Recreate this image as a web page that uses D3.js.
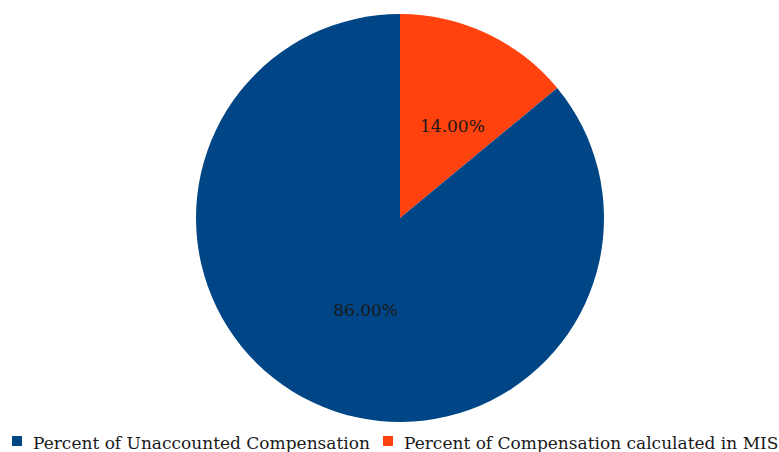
<!DOCTYPE html>
<html lang="en">
<head>
    <meta charset="UTF-8">
    <title>Compensation pie</title>
    <script src="https://d3js.org/d3.v7.min.js"></script>
    <style>
        body { margin: 0; background: #fff; }
    </style>
</head>
<body>
    <div id="output"></div>
    <script>
        var categories = ["Percent of Compensation calculated in MIS", "Percent of Unaccounted Compensation"];
        var values = [14, 86];
        var colors = ["#ff420e", "#004586"];
        var legendOrder = [1, 0];

        var width = 779;
        var height = 452;
        var radius = 204;
        var cx = 400, cy = 218;

        var svg = d3.select("#output").append("svg")
            .attr("width", width)
            .attr("height", height);

        var pie = d3.pie().sort(null).value(function(d) { return d; });
        var arcs = pie(values);

        var arc = d3.arc().innerRadius(0).outerRadius(radius);
        var labelArc = d3.arc().innerRadius(radius * 0.5).outerRadius(radius * 0.5);

        var g = svg.append("g").attr("transform", "translate(" + cx + "," + cy + ")");

        g.selectAll("path")
            .data(arcs)
            .enter().append("path")
            .attr("d", arc)
            .style("fill", function(d, i) { return colors[i]; });

        // labels sit a little right of the centroid, like the original
        g.selectAll("text")
            .data(arcs)
            .enter().append("text")
            .attr("transform", function(d) { return "translate(" + labelArc.centroid(d) + ")"; })
            .attr("text-anchor", "middle")
            .attr("dx", 9)
            .attr("dy", "0.35em")
            .style("font-family", "'DejaVu Serif', serif")
            .style("font-size", "17px")
            .style("fill", "#1a1a1a")
            .text(function(d) { return d.data.toFixed(2) + "%"; });

        // legend along the bottom
        var legendX = [12, 383];
        var legend = svg.selectAll(".legend")
            .data(legendOrder)
            .enter().append("g")
            .attr("class", "legend")
            .attr("transform", function(d, i) { return "translate(" + legendX[i] + ",436)"; });

        legend.append("rect")
            .attr("width", 10)
            .attr("height", 10)
            .style("fill", function(d) { return colors[d]; });

        legend.append("text")
            .attr("x", 21)
            .attr("y", 13)
            .style("font-family", "'DejaVu Serif', serif")
            .style("font-size", "17px")
            .style("fill", "#1a1a1a")
            .text(function(d) { return categories[d]; });
    </script>
</body>
</html>
